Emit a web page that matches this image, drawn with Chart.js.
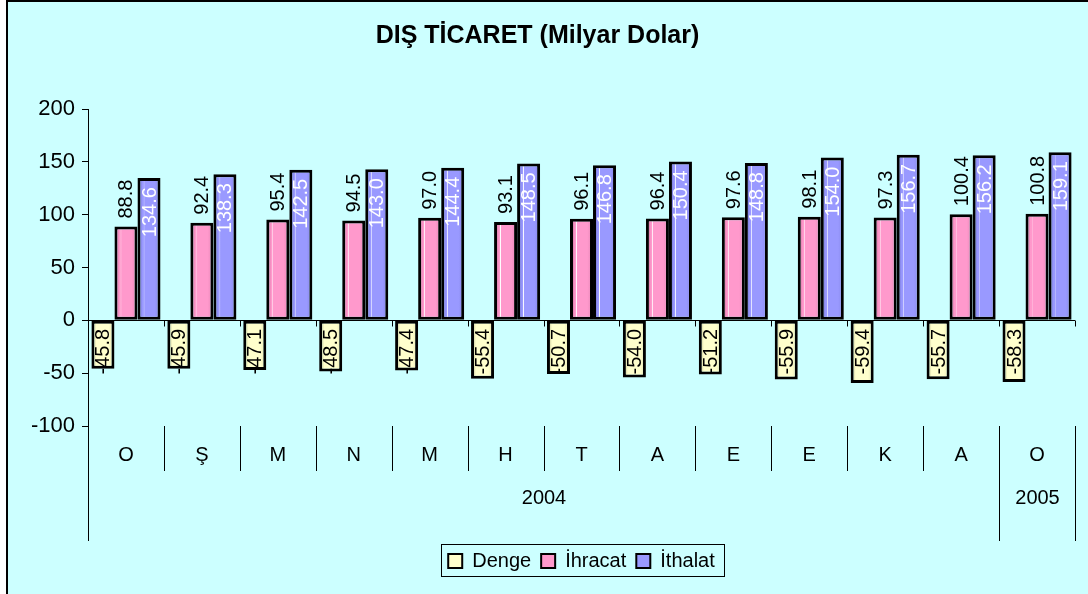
<!DOCTYPE html>
<html>
<head>
<meta charset="utf-8">
<title>Dış Ticaret</title>
<script src="https://cdn.jsdelivr.net/npm/chart.js@4.4.1/dist/chart.umd.min.js"></script>
<style>
  html, body { margin: 0; padding: 0; background: #fff; }
  canvas { display: block; }
</style>
</head>
<body>
<canvas id="chart" width="1088" height="594"></canvas>
<script>
// Kategoriler: aylar ve yıllar
const months = ['O', 'Ş', 'M', 'N', 'M', 'H', 'T', 'A', 'E', 'E', 'K', 'A', 'O'];
const years = ['2004', '2005'];
const yearSpans = [12, 1]; // her yıla düşen ay sayısı

// Seriler (milyar dolar)
const denge   = [-45.8, -45.9, -47.1, -48.5, -47.4, -55.4, -50.7, -54.0, -51.2, -55.9, -59.4, -55.7, -58.3];
const ihracat = [88.8, 92.4, 95.4, 94.5, 97.0, 93.1, 96.1, 96.4, 97.6, 98.1, 97.3, 100.4, 100.8];
const ithalat = [134.6, 138.3, 142.5, 143.0, 144.4, 148.5, 146.8, 150.4, 148.8, 154.0, 156.7, 156.2, 159.1];

const seriesNames = ['Denge', 'İhracat', 'İthalat'];
const yMin = -100, yMax = 200, yStep = 50;

const FONT = '"Liberation Sans", Arial, sans-serif';

// renkler: [koyu kenar, açık ton, sağ kenar]
const shades = [
    ['#a9a97c', '#ffffcc', '#e2e2b0'],
    ['#b65a86', '#ff99cc', '#e486b6'],
    ['#5f5fb4', '#9999ff', '#8585e6']
];

// arka plan ve çerçeve
const background = {
    id: 'background',
    beforeDraw(chart) {
        const ctx = chart.ctx;
        ctx.save();
        ctx.fillStyle = '#ccffff';
        ctx.fillRect(6, 0, chart.width - 6, chart.height);
        ctx.strokeStyle = '#000';
        ctx.lineWidth = 2;
        ctx.beginPath();
        ctx.moveTo(7, chart.height);
        ctx.lineTo(7, 1);
        ctx.lineTo(chart.width, 1);
        ctx.stroke();
        ctx.restore();
    }
};

// lejantı çizim alanına göre ortala
const legendShift = {
    id: 'legendShift',
    afterLayout(chart) {
        const lg = chart.legend, area = chart.chartArea;
        const dx = (area.left + area.right) / 2 - (lg.left + lg.right) / 2;
        lg.left += dx;
        lg.right += dx;
    }
};

// çubuklara degrade dolgu
const barShade = {
    id: 'barShade',
    beforeDatasetsDraw(chart) {
        const ctx = chart.ctx;
        chart.data.datasets.forEach((ds, i) => {
            const s = shades[i];
            chart.getDatasetMeta(i).data.forEach(bar => {
                const l = bar.x - bar.width / 2;
                const r = bar.x + bar.width / 2;
                const g = ctx.createLinearGradient(l, 0, r, 0);
                g.addColorStop(0, s[0]);
                g.addColorStop(0.22, s[1]);
                if (i > 0) {
                    g.addColorStop(0.26, s[1]);
                    g.addColorStop(0.28, '#ffffff');
                    g.addColorStop(0.31, s[1]);
                }
                g.addColorStop(0.75, s[1]);
                g.addColorStop(1, s[2]);
                bar.options.backgroundColor = g;
            });
        });
    }
};

// değer etiketleri (dikey)
const valueLabels = {
    id: 'valueLabels',
    afterDatasetsDraw(chart) {
        const ctx = chart.ctx;
        ctx.save();
        ctx.font = '20px ' + FONT;
        ctx.textBaseline = 'middle';
        chart.data.datasets.forEach((ds, i) => {
            chart.getDatasetMeta(i).data.forEach((bar, j) => {
                const txt = ds.data[j].toFixed(1);
                let y, align, color = '#000';
                if (i === 0) { y = bar.base + 8; align = 'right'; }
                else if (i === 1) { y = bar.y - 8; align = 'left'; }
                else { y = bar.y + 9; align = 'right'; color = '#fff'; }
                ctx.save();
                ctx.translate(bar.x + 1, y);
                ctx.rotate(-Math.PI / 2);
                ctx.textAlign = align;
                ctx.fillStyle = color;
                ctx.fillText(txt, 0, 0);
                ctx.restore();
            });
        });
        ctx.restore();
    }
};

// kategori ekseni: ay ve yıl satırları, ayırıcı çizgiler
const categoryAxis = {
    id: 'categoryAxis',
    afterDraw(chart) {
        const ctx = chart.ctx;
        const xs = chart.scales.x;
        const ys = chart.scales.y;
        const area = chart.chartArea;
        const y0 = Math.round(ys.getPixelForValue(0)) + 0.5;
        const rowBottom = area.bottom + 45;
        const yearBottom = area.bottom + 115;
        const edge = k => Math.round(xs.getPixelForValue(k - 0.5)) + 0.5;

        ctx.save();
        ctx.strokeStyle = '#000';
        ctx.lineWidth = 1;
        ctx.beginPath();
        // sıfır çizgisi üzerindeki çentikler
        for (let k = 1; k <= months.length; k++) {
            ctx.moveTo(edge(k), y0);
            ctx.lineTo(edge(k), y0 + 6);
        }
        // ay ayırıcıları
        for (let k = 0; k <= months.length; k++) {
            ctx.moveTo(edge(k), area.bottom);
            ctx.lineTo(edge(k), rowBottom);
        }
        // yıl ayırıcıları
        let acc = 0;
        ctx.moveTo(edge(0), area.bottom);
        ctx.lineTo(edge(0), yearBottom);
        yearSpans.forEach(n => {
            acc += n;
            ctx.moveTo(edge(acc), area.bottom);
            ctx.lineTo(edge(acc), yearBottom);
        });
        ctx.stroke();

        ctx.fillStyle = '#000';
        ctx.font = '20px ' + FONT;
        ctx.textAlign = 'center';
        ctx.textBaseline = 'middle';
        months.forEach((m, i) => {
            ctx.fillText(m, xs.getPixelForValue(i), area.bottom + 29);
        });
        acc = 0;
        years.forEach((yr, i) => {
            const a = edge(acc), b = edge(acc + yearSpans[i]);
            ctx.fillText(yr, (a + b) / 2, area.bottom + 72);
            acc += yearSpans[i];
        });
        ctx.restore();
    }
};

// lejant çerçevesi
const legendFrame = {
    id: 'legendFrame',
    afterDraw(chart) {
        const boxes = chart.legend.legendHitBoxes;
        if (!boxes || !boxes.length) return;
        const first = boxes[0], last = boxes[boxes.length - 1];
        const ctx = chart.ctx;
        ctx.save();
        ctx.strokeStyle = '#000';
        ctx.lineWidth = 1;
        ctx.strokeRect(Math.round(first.left - 7) + 0.5, Math.round(first.top - 7) + 0.5,
            Math.round(last.left + last.width - first.left + 16), Math.round(first.height + 12));
        ctx.restore();
    }
};

const datasets = [denge, ihracat, ithalat].map((data, i) => ({
    label: seriesNames[i],
    data: data,
    backgroundColor: () => shades[i][1],
    borderColor: '#000',
    borderWidth: 3,
    borderSkipped: false,
    categoryPercentage: 0.91,
    barPercentage: 1.0
}));

new Chart(document.getElementById('chart'), {
    type: 'bar',
    data: { labels: months, datasets: datasets },
    options: {
        responsive: false,
        animation: false,
        devicePixelRatio: 1,
        layout: { padding: { left: 0, right: 13, top: 0, bottom: 13 } },
        scales: {
            x: {
                ticks: { display: false },
                grid: { display: false },
                border: { display: false },
                afterFit: s => { s.height = 115; }
            },
            y: {
                min: yMin,
                max: yMax,
                ticks: { stepSize: yStep, color: '#000', padding: 7, font: { size: 22, family: FONT } },
                grid: {
                    color: c => (c.tick && c.tick.value === 0 ? '#000' : 'rgba(0,0,0,0)'),
                    tickColor: '#000',
                    tickLength: 6,
                    lineWidth: 1
                },
                border: { display: true, color: '#000', width: 1 },
                afterFit: s => { s.width = 88; }
            }
        },
        plugins: {
            title: {
                display: true,
                text: 'DIŞ TİCARET (Milyar Dolar)',
                color: '#000',
                font: { size: 25, weight: 'bold', family: FONT },
                padding: { top: 21, bottom: 58 }
            },
            legend: {
                position: 'bottom',
                labels: {
                    color: '#000',
                    font: { size: 20, family: FONT },
                    boxWidth: 14,
                    boxHeight: 14,
                    padding: 10,
                    generateLabels: chart =>
                        Chart.defaults.plugins.legend.labels.generateLabels(chart)
                            .map(item => Object.assign(item, { lineWidth: 2 }))
                }
            },
            tooltip: { enabled: false }
        }
    },
    plugins: [background, legendShift, barShade, valueLabels, categoryAxis, legendFrame]
});
</script>
</body>
</html>
